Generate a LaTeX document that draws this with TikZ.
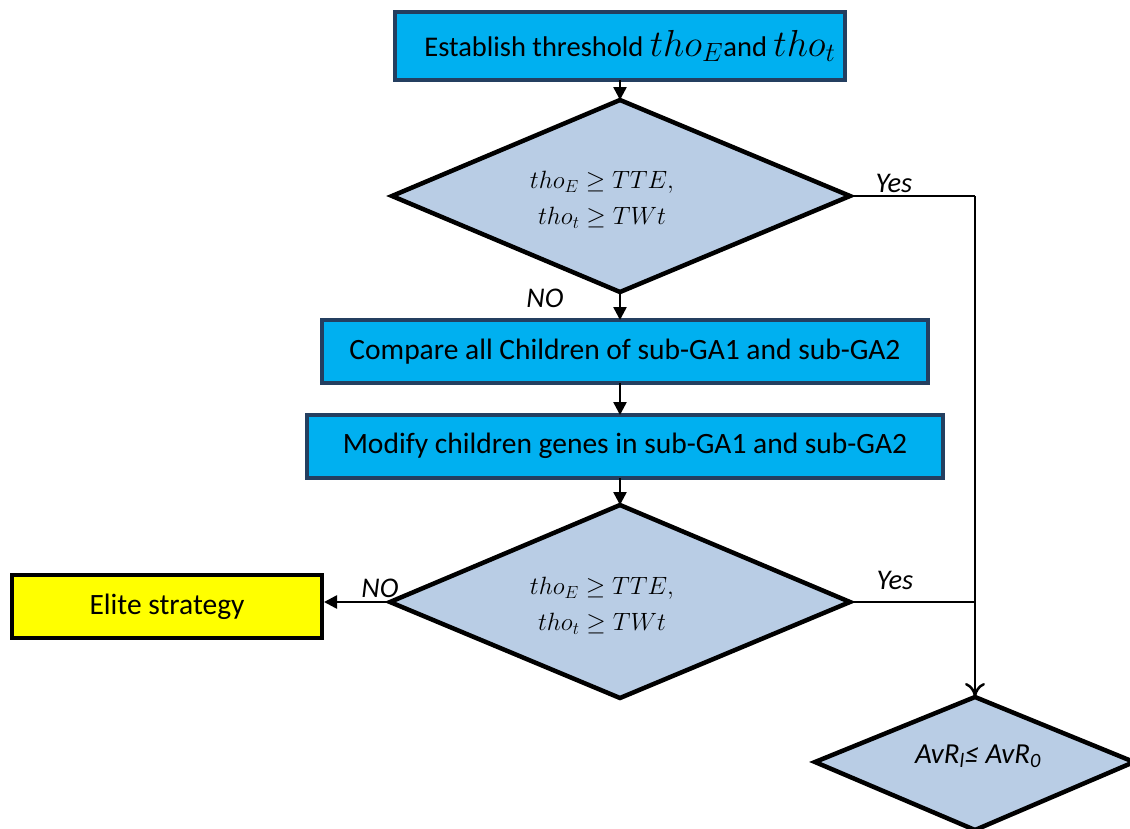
\RequirePackage{fix-cm}
\documentclass[tikz,border=0pt]{standalone}
\usepackage{graphicx}
\usepackage{fontspec}
\setmainfont{Carlito}
\usetikzlibrary{arrows.meta,shapes.geometric}
\definecolor{boxcyan}{HTML}{00B0F0}
\definecolor{boxnavy}{HTML}{243F60}
\definecolor{dia}{HTML}{B9CDE5}
\definecolor{elite}{HTML}{FFFF00}
\newcommand{\topmathx}[1]{\scalebox{1.32}{$#1$}}
\tikzset{
  boxfont/.style={font=\fontsize{29.5}{34}\selectfont},
  procbox/.style={draw=boxnavy,line width=3.5pt,fill=boxcyan},
  decbox/.style={draw=black,line width=4.5pt,fill=dia,line join=miter},
  elitebox/.style={draw=black,line width=4.5pt,fill=elite},
  conn/.style={draw=black,line width=2.5pt},
  arr/.style={conn,-{Triangle[length=13pt,width=13pt]}},
  openarr/.style={conn,-{To[length=14pt,width=20pt,line width=2.5pt]}},
  lbl/.style={font=\fontsize{28.5}{32}\selectfont\itshape},
  mathtxt/.style={font=\fontsize{25}{34}\selectfont,align=center}
}
\begin{document}
\begin{tikzpicture}[x=1pt,y=-1pt]
\useasboundingbox (0,0) rectangle (1130,828);
% top box
\draw[procbox] (395,12) rectangle (845,80);
\node[font=\fontsize{28.5}{34}\selectfont] (b1) at (630,46) {Establish threshold \topmathx{tho_E}and \topmathx{tho_t}};
\coordinate (b1s) at (620,80);
% diamond 1
\draw[decbox] (620,100) -- (850,196) -- (620,292) -- (392,196) -- cycle;
\coordinate (d1n) at (620,100);
\coordinate (d1e) at (850,196);
\coordinate (d1s) at (620,292);
\node[mathtxt] (d1) at (602,200) {$tho_E \geq TTE,$\\[2pt]$tho_t \geq TWt$};
% box 2
\draw[procbox] (322,320) rectangle (928,383);
\node[boxfont] (b2) at (625,352) {Compare all Children of sub-GA1 and sub-GA2};
\coordinate (b2n) at (620,320);
\coordinate (b2s) at (620,383);
% box 3
\draw[procbox] (307,415) rectangle (943,478);
\node[boxfont] (b3) at (625,446) {Modify children genes in sub-GA1 and sub-GA2};
\coordinate (b3n) at (620,415);
\coordinate (b3s) at (620,478);
% diamond 2
\draw[decbox] (620,505) -- (850,602) -- (620,698) -- (390,602) -- cycle;
\coordinate (d2n) at (620,505);
\coordinate (d2e) at (850,602);
\coordinate (d2w) at (390,602);
\node[mathtxt] (d2) at (602,606) {$tho_E \geq TTE,$\\[2pt]$tho_t \geq TWt$};
% elite box
\draw[elitebox] (12,575) rectangle (322,638);
\node[boxfont] (el) at (167,607) {Elite strategy};
\coordinate (ele) at (324,602);
% bottom diamond
\draw[decbox] (975,697) -- (1134,762) -- (975,830) -- (815,762) -- cycle;
\coordinate (d3n) at (975,697);
\node[font=\fontsize{29}{32}\selectfont\itshape] (d3) at (978,756) {AvR\textsubscript{l}≤ AvR\textsubscript{0}};
% right bus
\coordinate (c1) at (975,196);
\coordinate (c2) at (975,602);
% connectors
\draw[arr] (b1s) -- (d1n);
\draw[arr] (d1s) -- (b2n);
\draw[arr] (b2s) -- (b3n);
\draw[arr] (b3s) -- (d2n);
\draw[arr] (d2w) -- (ele);
\draw[conn] (d1e) -- (c1);
\draw[openarr] (c1) -- (d3n);
\draw[conn] (d2e) -- (c2);
% labels
\node[lbl] (y1) at (894,183) {Yes};
\node[lbl] (n1) at (545,298) {NO};
\node[lbl] (y2) at (895,580) {Yes};
\node[lbl] (n2) at (380,588) {NO};
\end{tikzpicture}
\end{document}
